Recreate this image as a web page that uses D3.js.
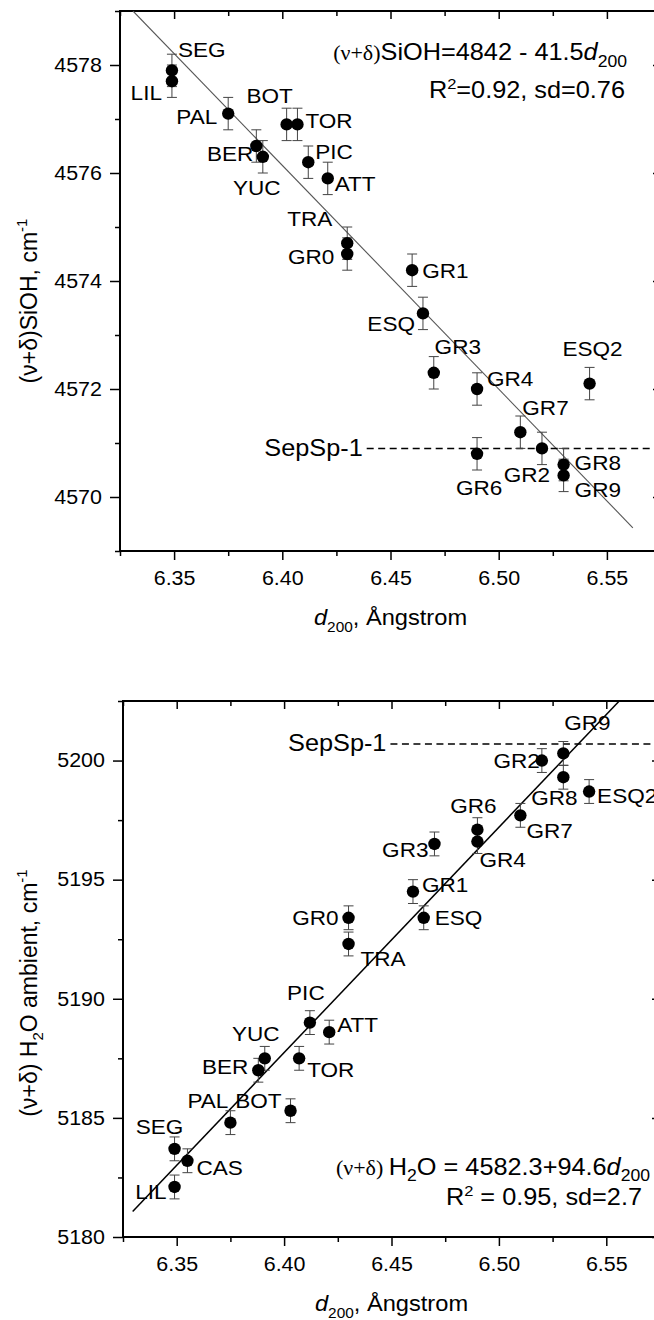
<!DOCTYPE html>
<html>
<head>
<meta charset="utf-8">
<script src="https://d3js.org/d3.v7.min.js"></script>
<style>
  body { margin: 0; background: #fff; }
  text { font-family: "Liberation Sans", Arial, sans-serif; fill: #000; }
  .axis path { display: none; }
  .axis line { stroke: #000; stroke-width: 1.5; }
  .serif { font-family: "Liberation Serif", "Times New Roman", serif; }
</style>
</head>
<body>
<script>
// ---------- data ----------
var xTicks = [6.35, 6.40, 6.45, 6.50, 6.55];
var xMinor = [6.325, 6.375, 6.425, 6.475, 6.525, 6.575];

// upper panel: (v+d) SiOH
var siohSamples = ["SEG","LIL","PAL","BER","YUC","BOT","TOR","PIC","ATT","TRA","GR0",
                   "GR1","ESQ","GR3","GR4","ESQ2","GR7","GR2","GR6","GR8","GR9"];
var siohD   = [6.349, 6.349, 6.375, 6.388, 6.391, 6.402, 6.407, 6.412, 6.421, 6.430, 6.430,
               6.460, 6.465, 6.470, 6.490, 6.542, 6.510, 6.520, 6.490, 6.530, 6.530];
var siohV   = [4577.9, 4577.7, 4577.1, 4576.5, 4576.3, 4576.9, 4576.9, 4576.2, 4575.9, 4574.7, 4574.5,
               4574.2, 4573.4, 4572.3, 4572.0, 4572.1, 4571.2, 4570.9, 4570.8, 4570.6, 4570.4];
var siohErr = [0.3, 0.3, 0.3, 0.3, 0.3, 0.3, 0.3, 0.3, 0.3, 0.3, 0.3,
               0.3, 0.3, 0.3, 0.3, 0.3, 0.3, 0.3, 0.3, 0.3, 0.3];
var siohYTicks = [4570, 4572, 4574, 4576, 4578];
var siohYMinor = [4569, 4571, 4573, 4575, 4577, 4579];
var siohFitD = [6.331, 6.562];
var siohFitV = [4579.0, 4569.43];
var siohSep = 4570.9, siohSepStart = 6.439;

// lower panel: (v+d) H2O ambient
var h2oSamples = ["LIL","SEG","CAS","PAL","BOT","BER","YUC","TOR","PIC","ATT","TRA",
                  "GR0","GR1","ESQ","GR3","GR6","GR4","GR7","GR8","GR2","GR9","ESQ2"];
var h2oD   = [6.349, 6.349, 6.355, 6.375, 6.403, 6.388, 6.391, 6.407, 6.412, 6.421, 6.430,
              6.430, 6.460, 6.465, 6.470, 6.490, 6.490, 6.510, 6.530, 6.520, 6.530, 6.542];
var h2oV   = [5182.1, 5183.7, 5183.2, 5184.8, 5185.3, 5187.0, 5187.5, 5187.5, 5189.0, 5188.6, 5192.3,
              5193.4, 5194.5, 5193.4, 5196.5, 5197.1, 5196.6, 5197.7, 5199.3, 5200.0, 5200.3, 5198.7];
var h2oErr = [0.5, 0.5, 0.5, 0.5, 0.5, 0.5, 0.5, 0.5, 0.5, 0.5, 0.5,
              0.5, 0.5, 0.5, 0.5, 0.5, 0.5, 0.5, 0.5, 0.5, 0.5, 0.5];
var h2oYTicks = [5180, 5185, 5190, 5195, 5200];
var h2oYMinor = [5182.5, 5187.5, 5192.5, 5197.5, 5202.5];
var h2oFitD = [6.3295, 6.575];
var h2oIntercept = 4582.3, h2oSlope = 94.6;
var h2oSep = 5200.7, h2oSepStart = 6.4495;

// label placement (anchor, dx, dy in px from the marker)
var siohLabelPos = {
  SEG:["start",6,-13], LIL:["end",-10,19], PAL:["end",-11,10], BOT:["middle",-17,-21],
  TOR:["start",8,4], BER:["end",-3,15], YUC:["middle",-6,38], PIC:["start",7,-3],
  ATT:["start",7,13], TRA:["end",-15,-17], GR0:["end",-13,10], GR1:["start",10,8],
  ESQ:["end",-8,18], GR3:["middle",24,-19], GR4:["start",10,-3], ESQ2:["middle",3,-28],
  GR7:["start",2,-17], GR2:["middle",-15,34], GR6:["middle",2,41], GR8:["start",11,5],
  GR9:["start",11,22]
};
var h2oLabelPos = {
  SEG:["middle",-15,-15], CAS:["start",9,14], LIL:["end",-8,12], PAL:["end",-2,-15],
  BOT:["end",-9,-3], BER:["end",-10,4], YUC:["middle",-9,-17], TOR:["start",8,19],
  PIC:["middle",-4,-23], ATT:["start",8,0], TRA:["start",12,22], GR0:["end",-10,7],
  GR1:["start",9,0], ESQ:["start",11,7], GR3:["end",-6,13], GR6:["middle",-4,-17],
  GR4:["start",2,25], GR7:["start",6,23], GR8:["middle",-9,28], ESQ2:["start",8,11],
  GR2:["end",-2,7], GR9:["middle",24,-23]
};

var SX = 1.1; // the source figure's lettering is a bit wide

var svg = d3.select("body").append("svg")
  .attr("width", 654).attr("height", 1320);
svg.append("rect").attr("width", 654).attr("height", 1320).attr("fill", "#fff");

function txt(g, x, y, anchor, size) {
  return g.append("text")
    .attr("transform", "translate(" + x + "," + y + ") scale(" + SX + ",1)")
    .attr("text-anchor", anchor)
    .style("font-size", size + "px");
}

function panel(o) {
  var g = svg.append("g");
  var x = d3.scaleLinear().domain([6.325, 6.575]).range([o.left, o.right]);
  var y = d3.scaleLinear().domain(o.yDomain).range([o.bottom, o.top]);

  var clipId = "clip" + o.id;
  svg.append("clipPath").attr("id", clipId).append("rect")
    .attr("x", o.left).attr("y", o.top)
    .attr("width", o.right - o.left).attr("height", o.bottom - o.top);

  // axes
  var bx = g.append("g").attr("class", "axis").attr("transform", "translate(0," + o.bottom + ")");
  bx.call(d3.axisBottom(x).tickValues(xTicks).tickSize(9).tickSizeOuter(0)
      .tickPadding(11.5).tickFormat(d3.format(".2f")));
  bx.selectAll(".tick text").style("font-size", "19.5px").attr("transform", "scale(" + SX + ",1)");
  g.append("g").attr("class", "axis").attr("transform", "translate(0," + o.bottom + ")")
    .call(d3.axisBottom(x).tickValues(xMinor).tickSize(5).tickSizeOuter(0).tickFormat(""));

  g.append("g").attr("class", "axis").attr("transform", "translate(0," + o.top + ")")
    .call(d3.axisTop(x).tickValues(xTicks).tickSize(-8).tickSizeOuter(0).tickFormat(""));
  g.append("g").attr("class", "axis").attr("transform", "translate(0," + o.top + ")")
    .call(d3.axisTop(x).tickValues(xMinor).tickSize(-5).tickSizeOuter(0).tickFormat(""));

  var ly = g.append("g").attr("class", "axis").attr("transform", "translate(" + o.left + ",0)");
  ly.call(d3.axisLeft(y).tickValues(o.yTicks).tickSize(10).tickSizeOuter(0)
      .tickPadding(6.4).tickFormat(d3.format("d")));
  ly.selectAll(".tick text").style("font-size", "19.5px").attr("transform", "scale(" + SX + ",1)");
  g.append("g").attr("class", "axis").attr("transform", "translate(" + o.left + ",0)")
    .call(d3.axisLeft(y).tickValues(o.yMinor).tickSize(5).tickSizeOuter(0).tickFormat(""));

  g.append("g").attr("class", "axis").attr("transform", "translate(" + o.right + ",0)")
    .call(d3.axisRight(y).tickValues(o.yTicks).tickSize(-8).tickSizeOuter(0).tickFormat(""));
  g.append("g").attr("class", "axis").attr("transform", "translate(" + o.right + ",0)")
    .call(d3.axisRight(y).tickValues(o.yMinor).tickSize(-5).tickSizeOuter(0).tickFormat(""));

  g.append("rect").attr("x", o.left).attr("y", o.top)
    .attr("width", o.right - o.left).attr("height", o.bottom - o.top)
    .attr("fill", "none").attr("stroke", "#000").attr("stroke-width", 2);

  // fit line
  var line = d3.line().x(function(p) { return x(p[0]); }).y(function(p) { return y(p[1]); });
  g.append("path").datum(o.fit).attr("d", line)
    .attr("clip-path", "url(#" + clipId + ")")
    .attr("fill", "none").attr("stroke", o.fitColor).attr("stroke-width", o.fitWidth);

  // SepSp-1 reference
  g.append("line")
    .attr("x1", x(o.sepStart)).attr("x2", o.right)
    .attr("y1", y(o.sep)).attr("y2", y(o.sep))
    .attr("stroke", "#000").attr("stroke-width", 1.5).attr("stroke-dasharray", "7,4.5");
  txt(g, x(o.sepStart) - 4, y(o.sep) + 7.5, "end", 23).text("SepSp-1");

  // error bars + points
  var pts = o.names.map(function(n, i) { return {n: n, d: o.d[i], v: o.v[i], e: o.err[i]}; });
  var eb = g.append("g").attr("stroke", "#444").attr("stroke-width", 1);
  pts.forEach(function(p) {
    var cx = x(p.d), y0 = y(p.v - p.e), y1 = y(p.v + p.e);
    eb.append("line").attr("x1", cx).attr("x2", cx).attr("y1", y0).attr("y2", y1);
    eb.append("line").attr("x1", cx - 5).attr("x2", cx + 5).attr("y1", y0).attr("y2", y0);
    eb.append("line").attr("x1", cx - 5).attr("x2", cx + 5).attr("y1", y1).attr("y2", y1);
  });
  g.selectAll("circle.pt").data(pts).enter().append("circle")
    .attr("cx", function(p) { return x(p.d); })
    .attr("cy", function(p) { return y(p.v); })
    .attr("r", 6.2).attr("fill", "#000");

  pts.forEach(function(p) {
    var lp = o.labelPos[p.n];
    txt(g, x(p.d) + lp[1], y(p.v) + lp[2], lp[0], 20.5).text(p.n);
  });

  // x axis title
  var xt = txt(g, (o.left + o.right) / 2, o.bottom + 74, "middle", 21.5);
  xt.append("tspan").style("font-style", "italic").text("d");
  xt.append("tspan").attr("dy", 7).style("font-size", "14px").text("200");
  xt.append("tspan").attr("dy", -7).text(", Ångstrom");

  return {g: g, x: x, y: y};
}

// ---------- upper panel ----------
var p1 = panel({
  id: 1, left: 120, right: 661, top: 11, bottom: 551,
  yDomain: [4569, 4579], yTicks: siohYTicks, yMinor: siohYMinor,
  names: siohSamples, d: siohD, v: siohV, err: siohErr, labelPos: siohLabelPos,
  fit: siohFitD.map(function(d, i) { return [d, siohFitV[i]]; }),
  fitColor: "#555", fitWidth: 1.1,
  sep: siohSep, sepStart: siohSepStart
});

var yl1 = p1.g.append("text")
  .attr("transform", "translate(37,301) rotate(-90)")
  .attr("text-anchor", "middle").style("font-size", "23px");
yl1.append("tspan").text("(ν+δ)SiOH, cm");
yl1.append("tspan").attr("dy", -10).style("font-size", "15px").text("-1");

var e1 = txt(p1.g, 627, 60, "end", 23);
e1.append("tspan").attr("class", "serif").style("font-size", "20px").text("(ν+δ)");
e1.append("tspan").text("SiOH=4842 - 41.5");
e1.append("tspan").style("font-style", "italic").text("d");
e1.append("tspan").attr("dy", 7).style("font-size", "16px").text("200");
var e2 = txt(p1.g, 625, 98, "end", 23);
e2.append("tspan").text("R");
e2.append("tspan").attr("dy", -9).style("font-size", "15px").text("2");
e2.append("tspan").attr("dy", 9).text("=0.92, sd=0.76");

// ---------- lower panel ----------
var p2 = panel({
  id: 2, left: 123, right: 660, top: 701, bottom: 1237,
  yDomain: [5180, 5202.5], yTicks: h2oYTicks, yMinor: h2oYMinor,
  names: h2oSamples, d: h2oD, v: h2oV, err: h2oErr, labelPos: h2oLabelPos,
  fit: h2oFitD.map(function(d) { return [d, h2oIntercept + h2oSlope * d]; }),
  fitColor: "#000", fitWidth: 1.5,
  sep: h2oSep, sepStart: h2oSepStart
});

var yl2 = p2.g.append("text")
  .attr("transform", "translate(37,993) rotate(-90)")
  .attr("text-anchor", "middle").style("font-size", "23px");
yl2.append("tspan").text("(ν+δ) H");
yl2.append("tspan").attr("dy", 6).style("font-size", "15px").text("2");
yl2.append("tspan").attr("dy", -6).text("O ambient, cm");
yl2.append("tspan").attr("dy", -10).style("font-size", "15px").text("-1");

var e3 = txt(p2.g, 650, 1175, "end", 23);
e3.append("tspan").attr("class", "serif").style("font-size", "20px").text("(ν+δ) ");
e3.append("tspan").text("H");
e3.append("tspan").attr("dy", 6).style("font-size", "16px").text("2");
e3.append("tspan").attr("dy", -6).text("O = 4582.3+94.6");
e3.append("tspan").style("font-style", "italic").text("d");
e3.append("tspan").attr("dy", 6).style("font-size", "16px").text("200");
var e4 = txt(p2.g, 642, 1205, "end", 23);
e4.append("tspan").text("R");
e4.append("tspan").attr("dy", -9).style("font-size", "15px").text("2");
e4.append("tspan").attr("dy", 9).text(" = 0.95, sd=2.7");
</script>
</body>
</html>
